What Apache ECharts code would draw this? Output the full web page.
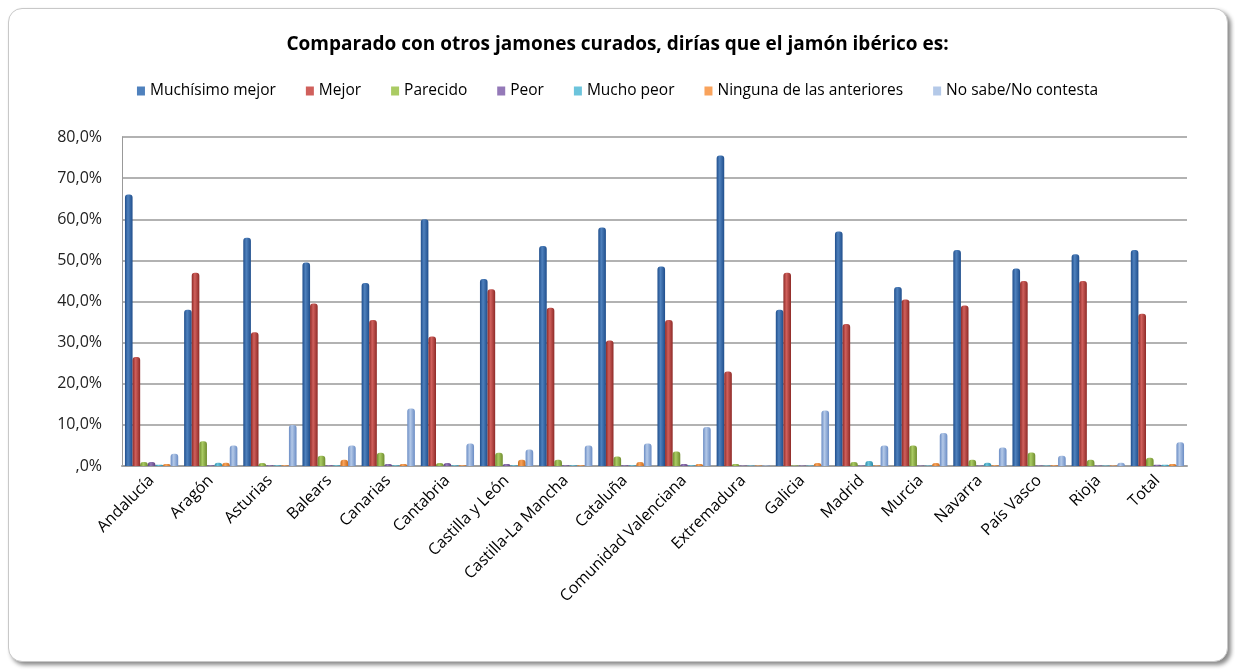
<!DOCTYPE html>
<html>
<head>
<meta charset="utf-8">
<script src="https://cdn.jsdelivr.net/npm/echarts@6/dist/echarts.min.js"></script>
<style>
  html, body { margin: 0; padding: 0; background: #fff; }
  .frame {
    position: absolute; left: 8px; top: 8px; width: 1218px; height: 652px;
    border: 1px solid #c8c8c8; border-radius: 14px;
    box-shadow: 3px 3px 4px #8a8a8a;
    background: #fff;
  }
  #chart { position: absolute; left: 0; top: 0; width: 1235px; height: 671px; }
</style>
</head>
<body>
<div class="frame"></div>
<div id="chart"></div>
<script>
// regiones
var categorias = ["Andalucía", "Aragón", "Asturias", "Balears", "Canarias", "Cantabria",
  "Castilla y León", "Castilla-La Mancha", "Cataluña", "Comunidad Valenciana", "Extremadura",
  "Galicia", "Madrid", "Murcia", "Navarra", "País Vasco", "Rioja", "Total"];

var muchisimoMejor = [66, 38, 55.5, 49.5, 44.5, 60, 45.5, 53.5, 58, 48.5, 75.5, 38, 57, 43.5, 52.5, 48, 51.5, 52.5];
var mejor          = [26.5, 47, 32.5, 39.5, 35.5, 31.5, 43, 38.5, 30.5, 35.5, 23, 47, 34.5, 40.5, 39, 45, 45, 37];
var parecido       = [1, 6, 0.7, 2.5, 3.2, 0.7, 3.2, 1.5, 2.3, 3.5, 0.5, 0.1, 1, 5, 1.5, 3.3, 1.5, 2];
var peor           = [1, 0.2, 0.2, 0.2, 0.5, 0.7, 0.5, 0.2, 0.2, 0.5, 0.1, 0.1, 0.1, 0.1, 0.1, 0.1, 0.1, 0.3];
var muchoPeor      = [0.3, 0.8, 0.2, 0.2, 0.2, 0.2, 0.2, 0.2, 0.2, 0.2, 0.1, 0.1, 1.2, 0.1, 0.8, 0.1, 0.1, 0.3];
var ninguna        = [0.5, 0.8, 0.2, 1.5, 0.5, 0.2, 1.5, 0.2, 1, 0.5, 0.1, 0.7, 0.1, 0.7, 0.2, 0.2, 0.1, 0.5];
var noSabe         = [3, 5, 10, 5, 14, 5.5, 4, 5, 5.5, 9.5, 0.1, 13.5, 5, 8, 4.5, 2.5, 0.8, 5.8];

var nombres = ["Muchísimo mejor", "Mejor", "Parecido", "Peor", "Mucho peor", "Ninguna de las anteriores", "No sabe/No contesta"];
var valores = [muchisimoMejor, mejor, parecido, peor, muchoPeor, ninguna, noSabe];
// colores: [oscuro, claro]
var colores = [["#1f4e8c", "#4f81bd"], ["#8e2a27", "#d0605c"], ["#6f8c2e", "#aacb63"],
  ["#5a3f7e", "#9479b8"], ["#2a8aa6", "#6cc4dc"], ["#c86a1a", "#f9a35c"], ["#6a8cc4", "#b4c9e8"]];

function cilindro(c) {
  return new echarts.graphic.LinearGradient(0, 0, 1, 0, [
    { offset: 0, color: c[0] },
    { offset: 0.4, color: c[1] },
    { offset: 1, color: c[0] }
  ]);
}

var chart = echarts.init(document.getElementById("chart"));
var series = nombres.map(function (n, i) {
  return {
    name: n,
    type: "bar",
    data: valores[i],
    barGap: "0%",
    barCategoryGap: "10%",
    itemStyle: { color: cilindro(colores[i]), borderRadius: [3, 3, 0, 0] }
  };
});

chart.setOption({
  textStyle: { fontFamily: "Open Sans" },
  title: {
    text: "Comparado con otros jamones curados, dirías que el jamón ibérico es:",
    left: "center",
    top: 30,
    textStyle: { fontSize: 19, fontWeight: "bold", color: "#000", fontFamily: "Open Sans" }
  },
  legend: {
    top: 78,
    left: "center",
    itemWidth: 8,
    itemHeight: 9,
    itemGap: 30,
    icon: "rect",
    textStyle: { fontSize: 15.5, color: "#000" },
    data: nombres.map(function (n, i) { return { name: n, itemStyle: { color: colores[i][1] } }; })
  },
  grid: { left: 122, right: 48, top: 137, bottom: 205 },
  xAxis: {
    type: "category",
    data: categorias,
    axisTick: { show: false },
    axisLine: { lineStyle: { color: "#a0a0a0", width: 2 } },
    axisLabel: { rotate: 45, fontSize: 16, color: "#000", margin: 12, interval: 0 }
  },
  yAxis: {
    type: "value",
    min: 0,
    max: 80,
    interval: 10,
    axisLine: { show: true, lineStyle: { color: "#999" } },
    splitLine: { lineStyle: { color: "#999", width: 1.5 } },
    axisLabel: {
      fontSize: 16, color: "#222", margin: 20,
      formatter: function (v) { return (v === 0 ? "" : v) + ",0%"; }
    }
  },
  series: series
});
</script>
</body>
</html>
